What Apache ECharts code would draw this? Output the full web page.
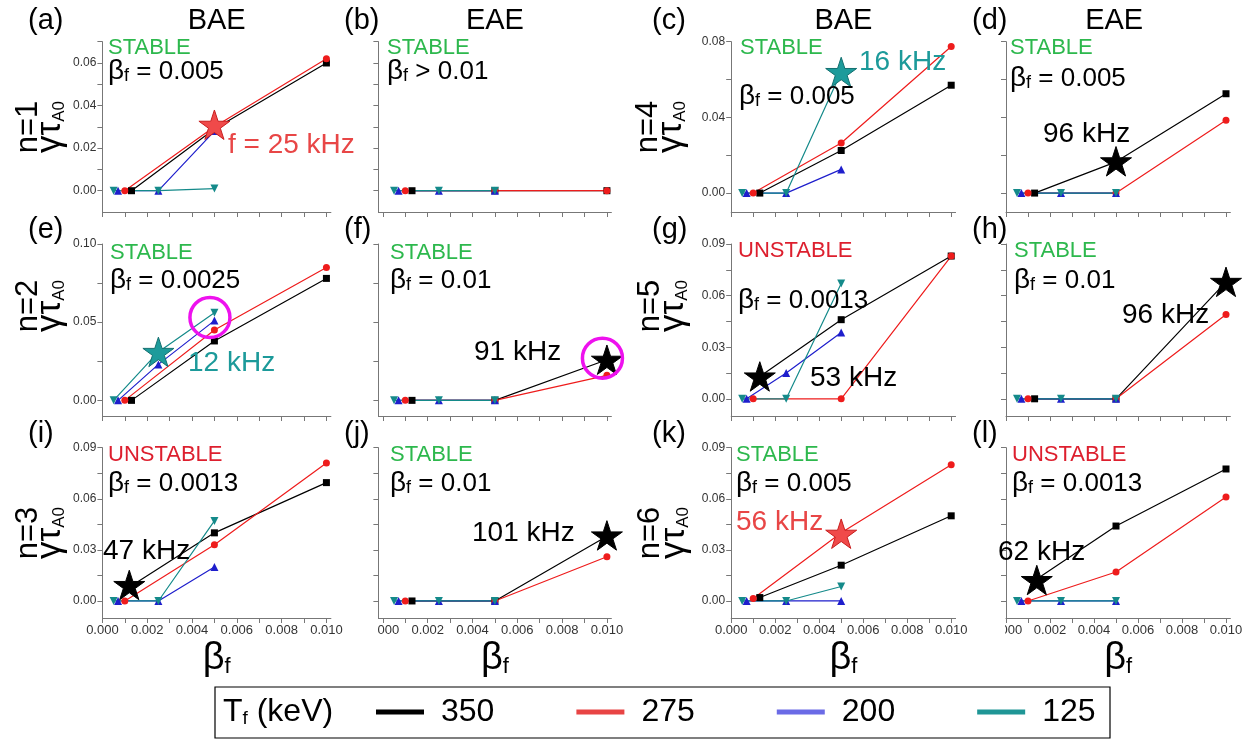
<!DOCTYPE html>
<html><head><meta charset="utf-8">
<script src="https://cdn.jsdelivr.net/npm/echarts@6/dist/echarts.min.js"></script>
<style>html,body{margin:0;padding:0;background:#fff;}#c{width:1259px;height:742px;}</style>
</head><body><div id="c"></div>
<script>
// ---------------- DATA ----------------
const panelIds = ['a','b','c','d','e','f','g','h','i','j','k','l'];
const tempLabels = ['350','275','200','125'];
// beta_f sample positions per fast-ion temperature
const x350 = [0.0013, 0.005, 0.01];
const x275 = [0.001, 0.005, 0.01];
const x200 = [0.0007, 0.0025, 0.005];
const x125 = [0.0005, 0.0025, 0.005];
// growth rates gamma*tauA0, panel by panel
const a350 = [0, 0.029, 0.060], a275 = [0, 0.030, 0.062], a200 = [0, 0, 0.028], a125 = [0, 0, 0.001];
const b350 = [0, 0, 0], b275 = [0, 0, 0], b200 = [0, 0, 0], b125 = [0, 0, 0];
const c350 = [0, 0.0225, 0.057], c275 = [0, 0.0265, 0.0775], c200 = [0, 0, 0.0125], c125 = [0, 0, 0.064];
const d350 = [0, 0.0165, 0.0525], d275 = [0, 0, 0.0385], d200 = [0, 0, 0], d125 = [0, 0, 0];
const e350 = [0, 0.038, 0.078], e275 = [0, 0.045, 0.085], e200 = [0, 0.023, 0.051], e125 = [0, 0.031, 0.056];
const f350 = [0, 0, 0.026], f275 = [0, 0, 0.016], f200 = [0, 0, 0], f125 = [0, 0, 0];
const g350 = [0.013, 0.046, 0.083], g275 = [0, 0, 0.083], g200 = [0, 0.015, 0.0385], g125 = [0, 0, 0.067];
const h350 = [0, 0, 0.068], h275 = [0, 0, 0.049], h200 = [0, 0, 0], h125 = [0, 0, 0];
const i350 = [0.009, 0.040, 0.0695], i275 = [0, 0.033, 0.081], i200 = [0, 0, 0.020], i125 = [0, 0, 0.047];
const j350 = [0, 0, 0.038], j275 = [0, 0, 0.026], j200 = [0, 0, 0], j125 = [0, 0, 0];
const k350 = [0.002, 0.021, 0.050], k275 = [0.0015, 0.040, 0.080], k200 = [0, 0, 0], k125 = [0, 0, 0.0085];
const l350 = [0.012, 0.044, 0.0775], l275 = [0, 0.017, 0.061], l200 = [0, 0, 0], l125 = [0, 0, 0];
// highlighted modes (stars) [beta_f, gamma*tauA0]
const starA = [0.005, 0.031], starC = [0.005, 0.064], starD = [0.005, 0.0168], starE = [0.0025, 0.031];
const starF = [0.01, 0.026], starG = [0.0013, 0.013], starH = [0.01, 0.068], starI = [0.0012, 0.0094];
const starJ = [0.01, 0.0385], starK = [0.005, 0.0395], starL = [0.0014, 0.0123];
// circled points
const circleE = [0.0048, 0.053], circleF = [0.0098, 0.027];
// ticks
const xTicks = [0, 0.001, 0.002, 0.003, 0.004, 0.005, 0.006, 0.007, 0.008, 0.009, 0.010];
const xTickLabels = [0, 0.002, 0.004, 0.006, 0.008, 0.010];
const yTicks1 = [0, 0.01, 0.02, 0.03, 0.04, 0.05, 0.06, 0.07], yLabels1 = [0, 0.02, 0.04, 0.06];
const yTicks4 = [0, 0.02, 0.04, 0.06, 0.08], yLabels4 = [0, 0.04, 0.08];
const yTicks2 = [0, 0.025, 0.05, 0.075, 0.10], yLabels2 = [0, 0.05, 0.10];
const yTicks3 = [0, 0.015, 0.03, 0.045, 0.06, 0.075, 0.09], yLabels3 = [0, 0.03, 0.06, 0.09];
const panelTitles = ['(a)','(b)','(c)','(d)','(e)','(f)','(g)','(h)','(i)','(j)','(k)','(l)'];
const colTitles = ['BAE','EAE','BAE','EAE'];
const rowNames = ['n=1','n=2','n=3','n=4','n=5','n=6'];
const statusText = ['STABLE','STABLE','STABLE','STABLE','STABLE','STABLE','UNSTABLE','STABLE','UNSTABLE','STABLE','STABLE','UNSTABLE'];
const betaText = ['= 0.005','> 0.01','= 0.005','= 0.005','= 0.0025','= 0.01','= 0.0013','= 0.01','= 0.0013','= 0.01','= 0.005','= 0.0013'];
const freqText = ['f = 25 kHz','','16 kHz','96 kHz','12 kHz','91 kHz','53 kHz','96 kHz','47 kHz','101 kHz','56 kHz','62 kHz'];

// ---------------- STYLE / LAYOUT ----------------
const FF = "'Liberation Sans', Arial, sans-serif";
const xsOf = {'350': x350, '275': x275, '200': x200, '125': x125};
const ys = {
  a:[a350,a275,a200,a125], b:[b350,b275,b200,b125], c:[c350,c275,c200,c125], d:[d350,d275,d200,d125],
  e:[e350,e275,e200,e125], f:[f350,f275,f200,f125], g:[g350,g275,g200,g125], h:[h350,h275,h200,h125],
  i:[i350,i275,i200,i125], j:[j350,j275,j200,j125], k:[k350,k275,k200,k125], l:[l350,l275,l200,l125]
};
const stars = {a:starA, c:starC, d:starD, e:starE, f:starF, g:starG, h:starH, i:starI, j:starJ, k:starK, l:starL};
const circles = {e:circleE, f:circleF};
const RED = '#ee1c1c', TEAL = '#148a8a', BLUE = '#1e1ecc', GREEN = '#2db84d', URED = '#dd1f2e', LRED = '#e84646', LTEAL = '#1c9a9a';
const sty = {
  '350': {color:'#000000', symbol:'rect', rot:0, size:7, legend:'#000000'},
  '275': {color:RED, symbol:'circle', rot:0, size:7, legend:'#e84444'},
  '200': {color:BLUE, symbol:'triangle', rot:0, size:8, legend:'#6b6be6'},
  '125': {color:TEAL, symbol:'triangle', rot:180, size:8, legend:'#1f9696'}
};
const starColor = {a:['#f04a4a','#c81e1e'], c:['#1d9b9b','#137070'], e:['#1d9b9b','#137070'], k:['#f04a4a','#c81e1e']};
const STAR = 'path://M50 0 L61.2 34.5 L97.6 34.5 L68.2 55.9 L79.4 90.5 L50 69.1 L20.6 90.5 L31.8 55.9 L2.4 34.5 L38.8 34.5 Z';
const colLeft = [102.4, 378.4, 731.2, 1006];
const colXMin = [0, -0.0002, 0, 0];
const colW = [228.5, 233, 224.4, 224.4];
const rowTop = [41.7, 244, 447.7];
const rowH = [170.3, 172, 170.3];
const yCfg = {
  a:[0.07,yTicks1,yLabels1], b:[0.07,yTicks1,yLabels1], c:[0.08,yTicks4,yLabels4], d:[0.08,yTicks4,yLabels4],
  e:[0.10,yTicks2,yLabels2], f:[0.10,yTicks2,yLabels2], g:[0.09,yTicks3,yLabels3], h:[0.09,yTicks3,yLabels3],
  i:[0.09,yTicks3,yLabels3], j:[0.09,yTicks3,yLabels3], k:[0.09,yTicks3,yLabels3], l:[0.09,yTicks3,yLabels3]
};
const AX = '#777';
const grid = [], xAxis = [], yAxis = [], series = [];
panelIds.forEach((p, idx) => {
  const r = Math.floor(idx / 4), c = idx % 4;
  grid.push({left: colLeft[c], top: rowTop[r], width: colW[c], height: rowH[r]});
  xAxis.push({
    type:'value', gridIndex: idx, min: colXMin[c], max: 0.0102,
    axisLine:{show:true, onZero:false, lineStyle:{color:AX, width:1}},
    axisTick:{show:true, customValues:xTicks, length:5, lineStyle:{color:AX}},
    axisLabel:{show: r === 2, customValues:xTickLabels, formatter: v => v.toFixed(3), fontSize:13, color:'#333', margin:6, fontFamily:FF},
    splitLine:{show:false},
    name: r === 2 ? '{b|β}{s|f}' : '', nameLocation:'middle', nameGap: 22,
    nameTextStyle:{rich:{b:{fontSize:38, fontFamily:FF, color:'#000', verticalAlign:'bottom'}, s:{fontSize:22, fontFamily:FF, color:'#000', verticalAlign:'bottom'}}}
  });
  const yc = yCfg[p];
  yAxis.push({
    type:'value', gridIndex: idx, min: -0.01, max: yc[0],
    axisLine:{show:true, onZero:false, lineStyle:{color:AX, width:1}},
    axisTick:{show:true, customValues:yc[1], length:5, lineStyle:{color:AX}},
    axisLabel:{show: c === 0 || c === 2, customValues:yc[2], formatter: v => v.toFixed(2), fontSize:12, color:'#333', margin:6, fontFamily:FF},
    splitLine:{show:false}
  });
  tempLabels.forEach((t, k) => {
    const s = sty[t];
    series.push({
      type:'line', name:t, xAxisIndex:idx, yAxisIndex:idx, clip:false,
      data: xsOf[t].map((x, m) => [x, ys[p][k][m]]),
      symbol:s.symbol, symbolRotate:s.rot, symbolSize:s.size, showSymbol:true,
      lineStyle:{color:s.color, width:1.2}, itemStyle:{color:s.color, opacity:1},
      emphasis:{disabled:true}, animation:false
    });
  });
  if (stars[p]) {
    const sc = starColor[p] || ['#000000', '#000000'];
    series.push({type:'scatter', name:'star', xAxisIndex:idx, yAxisIndex:idx, clip:false, z:4,
      data:[stars[p]], symbol:STAR, symbolSize:31, symbolKeepAspect:true,
      itemStyle:{color:sc[0], borderColor:sc[1], borderWidth:1, opacity:1}, emphasis:{disabled:true}, animation:false});
  }
  if (circles[p]) {
    series.push({type:'scatter', name:'circle', xAxisIndex:idx, yAxisIndex:idx, clip:false, z:5,
      data:[circles[p]], symbol:'circle', symbolSize:40,
      itemStyle:{color:'rgba(0,0,0,0)', borderColor:'#ee11ee', borderWidth:3.5, opacity:1}, emphasis:{disabled:true}, animation:false});
  }
});

// ---------------- TEXT GRAPHICS ----------------
const graphic = [];
function addText(text, x, y, size, color, align, rich, rot) {
  graphic.push({type:'text', x:x, y:y, rotation: rot || 0, z:10,
    style:{text:text, fontSize:size, fontFamily:FF, fill:color, align:align || 'left', verticalAlign:'middle', rich:rich}});
}
const titleRowY = [21, 230, 434];
const titleX = [28, 344, 652, 972];
panelIds.forEach((p, idx) => {
  const r = Math.floor(idx / 4), c = idx % 4;
  addText(panelTitles[idx], titleX[c], titleRowY[r], 29, '#000');
});
colTitles.forEach((t, c) => addText(t, colLeft[c] + colW[c] / 2 + (c === 3 ? -4 : 0), 21, 29, '#000', 'center'));
// row labels (rotated)
const rowLabelPos = [[28,50,127],[28,50,306],[28,50,533],[648,671,127],[650,673,306],[650,674,533]];
const gRich = {g:{fontSize:35, fontFamily:FF, fill:'#000', verticalAlign:'bottom'}, s:{fontSize:17, fontFamily:FF, fill:'#000', verticalAlign:'bottom'}};
rowNames.forEach((n, k) => {
  const q = rowLabelPos[k];
  addText(n, q[0], q[2], 31, '#000', 'center', null, Math.PI / 2);
  addText('{g|γτ}{s|A0}', q[1], q[2], 35, '#000', 'center', gRich, Math.PI / 2);
});
const statusPos = [[108,48],[387,48],[740,48],[1010,48],[110,253],[390,253],[738,251],[1014,251],[108,455],[390,455],[736,455],[1012,455]];
const betaPos = [[108,71],[387,71],[739,96],[1010,78],[110,280],[390,280],[738,300],[1014,280],[108,483],[390,483],[736,483],[1012,483]];
const freqPos = [[228,145],null,[859,62],[1043,134],[188,363],[474,352],[810,378],[1122,315],[103,551],[472,533],[736,522],[998,552]];
const freqColor = [LRED,null,LTEAL,'#000',LTEAL,'#000','#000','#000','#000','#000',LRED,'#000'];
const bRich = {b:{fontSize:28, fontFamily:FF, fill:'#000', verticalAlign:'bottom'}, s:{fontSize:18, fontFamily:FF, fill:'#000', verticalAlign:'bottom'}, n:{fontSize:26, fontFamily:FF, fill:'#000', verticalAlign:'bottom'}};
panelIds.forEach((p, idx) => {
  addText(statusText[idx], statusPos[idx][0], statusPos[idx][1], 22, statusText[idx] === 'STABLE' ? GREEN : URED);
  addText('{b|β}{s|f}{n| ' + betaText[idx] + '}', betaPos[idx][0], betaPos[idx][1], 26, '#000', 'left', bRich);
  if (freqText[idx]) addText(freqText[idx], freqPos[idx][0], freqPos[idx][1], 28, freqColor[idx]);
});
// cover the part of the 0.000 labels hidden behind neighbouring panels
[1, 3].forEach(c => graphic.push({type:'rect', z:9, shape:{x:colLeft[c] - 24, y:621, width:23, height:20}, style:{fill:'#fff'}}));
// legend frame and title
graphic.push({type:'rect', z:1, shape:{x:215, y:687, width:895, height:51}, style:{fill:'none', stroke:'#000', lineWidth:1.2}});
addText('{t|T}{s|f}{t| (keV)}', 223, 712, 32, '#000', 'left',
  {t:{fontSize:32, fontFamily:FF, fill:'#000', verticalAlign:'bottom'}, s:{fontSize:19, fontFamily:FF, fill:'#000', verticalAlign:'bottom'}});

const chart = echarts.init(document.getElementById('c'), null, {renderer:'canvas'});
chart.setOption({
  backgroundColor:'#fff', animation:false,
  grid, xAxis, yAxis, series, graphic,
  legend:{
    left:376, top:696, padding:0, itemGap:82, itemWidth:48, itemHeight:5, icon:'rect', selectedMode:false,
    textStyle:{fontSize:32, fontFamily:FF, color:'#000', padding:[0,0,0,12], lineHeight:32},
    data: tempLabels.map(t => ({name:t, itemStyle:{color:sty[t].legend}}))
  }
});
</script></body></html>
